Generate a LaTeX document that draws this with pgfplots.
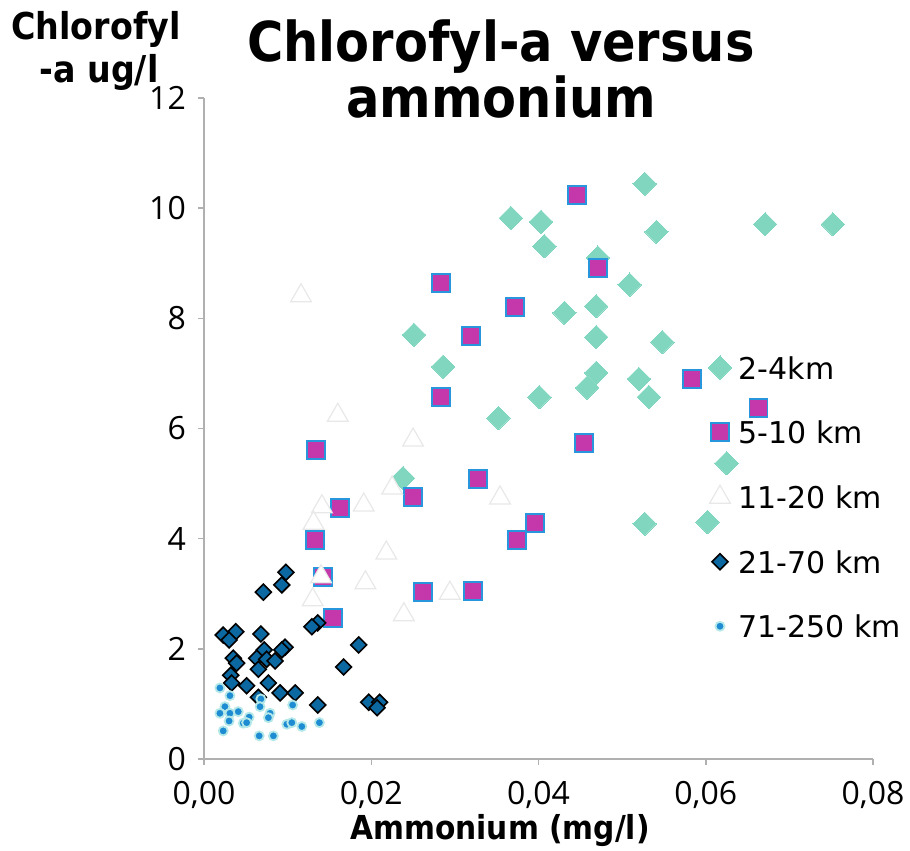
\documentclass[border=0pt]{standalone}
\usepackage{pgfplots}
\pgfplotsset{compat=1.18}
\usepackage{fontspec}
\setmainfont{DejaVu Sans}
\newfontfamily\condfont{DejaVu Sans Condensed}[BoldFont=* Bold]
\newfontfamily\tickfont{Open Sans}
\definecolor{axisgray}{RGB}{176,176,176}
\definecolor{tealc}{RGB}{128,214,190}
\definecolor{magfill}{RGB}{196,56,172}
\definecolor{magedge}{RGB}{40,150,220}
\definecolor{triedge}{RGB}{232,232,232}
\definecolor{dkfill}{RGB}{12,104,160}
\definecolor{dotfill}{RGB}{30,140,210}
\definecolor{dotedge}{RGB}{180,232,232}
\begin{document}
\begin{tikzpicture}[x=1pt,y=1pt]
\useasboundingbox (0,0) rectangle (910,851);
\begin{axis}[
  at={(204pt,92pt)}, anchor=south west,
  scale only axis, width=669pt, height=661pt,
  xmin=0, xmax=0.08, ymin=0, ymax=12,
  xtick={0,0.02,0.04,0.06,0.08},
  ytick={0,2,4,6,8,10,12},
  scaled x ticks=false,
  axis x line*=bottom, axis y line*=left,
  axis line style={-, draw=axisgray, line width=1.5pt},
  tick align=outside, major tick length=6pt,
  tick style={draw=axisgray, line width=1.5pt},
  /pgf/number format/assume math mode=true,
  xticklabel style={/pgf/number format/.cd, fixed, fixed zerofill, precision=2, use comma, /tikz/.cd,
    font=\tickfont\fontsize{32}{38}\selectfont, inner sep=0pt, yshift=-16pt},
  yticklabel style={font=\tickfont\fontsize{32}{38}\selectfont, inner sep=0pt, xshift=-12pt},
  clip=false,
  legend cell align=left,
  legend style={at={(axis cs:0.0603,7.32)}, anchor=north west, draw=none, fill=none,
    inner sep=0pt, outer sep=0pt, row sep=41.5pt, column sep=7pt,
    font=\fontsize{30}{36}\selectfont,
    nodes={inner sep=0pt, text height=23pt, text depth=0pt}},
]
% 2-4 km
\addplot[only marks, mark=square*, mark size=8.3pt, mark options={rotate=45, fill=tealc, draw=tealc, line width=0pt}]
coordinates {
(0.0527,10.44) (0.0367,9.82) (0.0403,9.75) (0.0407,9.31) (0.0541,9.57)
(0.0671,9.71) (0.0752,9.71) (0.0471,9.10) (0.0509,8.61) (0.0431,8.10)
(0.0469,8.22) (0.0469,7.66) (0.0548,7.57) (0.0251,7.70) (0.0286,7.12)
(0.0469,7.01) (0.0458,6.74) (0.0520,6.90) (0.0532,6.57) (0.0401,6.57)
(0.0352,6.19) (0.0625,5.37) (0.0602,4.30) (0.0527,4.27) (0.0238,5.10)
};
\addlegendentry{2-4km}
% 5-10 km
\addplot[only marks, mark=square*, mark size=9pt, mark options={fill=magfill, draw=magedge, line width=1.8pt}]
coordinates {
(0.0446,10.24) (0.0471,8.91) (0.0372,8.21) (0.0283,8.64) (0.0319,7.68)
(0.0283,6.57) (0.0454,5.74) (0.0584,6.90) (0.0663,6.37) (0.0134,5.61)
(0.0163,4.56) (0.0250,4.76) (0.0328,5.08) (0.0396,4.28) (0.0374,3.98)
(0.0133,3.98) (0.0142,3.30) (0.0262,3.03) (0.0322,3.05) (0.0154,2.56)
};
\addlegendentry{5-10 km}
% 11-20 km
\addplot[only marks, mark=triangle*, mark size=12pt, mark options={fill=white, draw=triedge, line width=1.2pt}]
coordinates {
(0.0116,8.41) (0.0160,6.24) (0.0250,5.79) (0.0225,4.92) (0.0191,4.61)
(0.0141,4.58) (0.0131,4.28) (0.0354,4.74) (0.0218,3.74) (0.0140,3.31)
(0.0193,3.20) (0.0294,3.01) (0.0130,2.89) (0.0239,2.62)
};
\addlegendentry{11-20 km}
% 21-70 km
\addplot[only marks, mark=square*, mark size=5.6pt, mark options={rotate=45, fill=dkfill, draw=black, line width=1.6pt}]
coordinates {
(0.0098,3.39) (0.0093,3.16) (0.0071,3.03) (0.0136,2.47) (0.0129,2.40)
(0.0023,2.25) (0.0038,2.31) (0.0030,2.16) (0.0068,2.27) (0.0185,2.07)
(0.0097,2.03) (0.0093,1.98) (0.0072,1.98) (0.0035,1.83) (0.0063,1.83)
(0.0075,1.81) (0.0085,1.78) (0.0039,1.74) (0.0167,1.67) (0.0065,1.63)
(0.0032,1.52) (0.0033,1.38) (0.0051,1.33) (0.0077,1.38) (0.0091,1.20)
(0.0109,1.20) (0.0065,1.12) (0.0136,0.98) (0.0197,1.03) (0.0210,1.03)
(0.0207,0.93)
};
\addlegendentry{21-70 km}
% 71-250 km
\addplot[only marks, mark=*, mark size=4.5pt, mark options={fill=dotfill, draw=dotedge, line width=1.8pt}]
coordinates {
(0.0019,1.29) (0.0031,1.15) (0.0025,0.95) (0.0019,0.83) (0.0031,0.83)
(0.0041,0.86) (0.0030,0.69) (0.0054,0.76) (0.0047,0.65) (0.0051,0.66)
(0.0023,0.51) (0.0068,1.09) (0.0067,0.95) (0.0079,0.83) (0.0077,0.75)
(0.0106,0.98) (0.0099,0.63) (0.0105,0.66) (0.0117,0.59) (0.0138,0.66)
(0.0066,0.42) (0.0083,0.42)
};
\addlegendentry{71-250 km}
\end{axis}
\node[anchor=base, font=\condfont\bfseries\fontsize{55}{56}\selectfont] at (501,789) {Chlorofyl-a versus};
\node[anchor=base, font=\condfont\bfseries\fontsize{55}{56}\selectfont] at (501,733) {ammonium};
\node[anchor=base, font=\condfont\bfseries\fontsize{37}{40}\selectfont] at (96,811) {Chlorofyl};
\node[anchor=base, font=\condfont\bfseries\fontsize{37}{40}\selectfont] at (99,768) {-a ug/l};
\node[anchor=base, font=\condfont\bfseries\fontsize{33}{36}\selectfont] at (500,11) {Ammonium (mg/l)};
\end{tikzpicture}
\end{document}
